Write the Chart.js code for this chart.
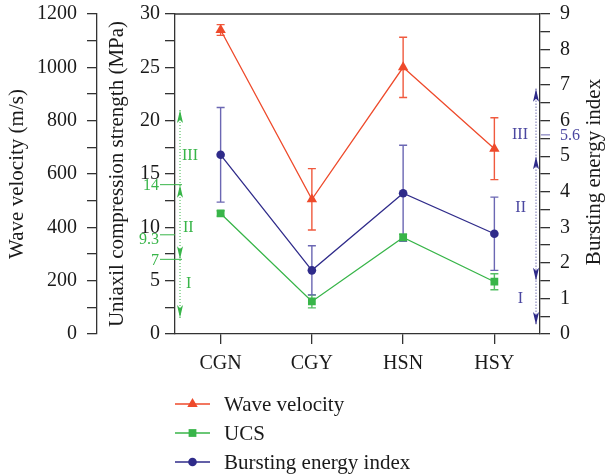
<!DOCTYPE html>
<html>
<head>
<meta charset="utf-8">
<script src="https://cdn.jsdelivr.net/npm/chart.js@4.4.0/dist/chart.umd.min.js"></script>
<style>
  body { margin: 0; background: #fff; }
  canvas { display: block; }
</style>
</head>
<body>
<canvas id="rockChart" width="606" height="475"></canvas>
<script>
const rockTypes = ['CGN', 'CGY', 'HSN', 'HSY'];

const waveVelocity = [1140, 505, 1000, 695];
const waveVelocityErr = [20, 115, 113, 116];
const ucs = [11.3, 3.05, 9.05, 4.9];
const ucsErr = [0.25, 0.6, 0.3, 0.75];
const burstIndex = [5.04, 1.79, 3.96, 2.82];
const burstIndexErr = [1.33, 0.69, 1.35, 1.03];

// rockburst class limits marked next to the UCS and bursting index axes
const ucsLimits = [14, 9.3, 7];
const ucsArrowEnds = [1.5, 21];
const burstLimits = [1.5, 5];
const burstMark = 5.6;
const burstArrowEnds = [0.25, 6.9];

const SERIF = "'Liberation Serif', 'DejaVu Serif', serif";
const RED = '#ee4a2b';
const GREEN = '#38b549';
const BLUE = '#2f2b8a';
const AXIS = '#333333';

function drawHead(ctx, x, tipY, dir, color) {
    // dir -1: points up, 1: points down
    const len = 13, half = 3;
    ctx.fillStyle = color;
    ctx.beginPath();
    ctx.moveTo(x, tipY);
    ctx.lineTo(x - half, tipY - dir * len);
    ctx.lineTo(x, tipY - dir * (len - 3));
    ctx.lineTo(x + half, tipY - dir * len);
    ctx.closePath();
    ctx.fill();
}

// keep the plot box fixed: no extra room for the end tick labels
function fixSize(width) {
    return s => {
        s.width = width;
        s.paddingTop = 0;
        s.paddingBottom = 0;
    };
}

const errorBars = {
    id: 'errorBars',
    beforeDatasetsDraw(chart) {
        const ctx = chart.ctx;
        chart.data.datasets.forEach((ds, i) => {
            const meta = chart.getDatasetMeta(i);
            const scale = chart.scales[ds.yAxisID];
            ctx.save();
            ctx.strokeStyle = ds.errColor;
            ctx.lineWidth = 1.4;
            meta.data.forEach((pt, j) => {
                const top = scale.getPixelForValue(ds.data[j] + ds.errors[j]);
                const bot = scale.getPixelForValue(ds.data[j] - ds.errors[j]);
                ctx.beginPath();
                ctx.moveTo(pt.x, top); ctx.lineTo(pt.x, bot);
                ctx.moveTo(pt.x - 4, top); ctx.lineTo(pt.x + 4, top);
                ctx.moveTo(pt.x - 4, bot); ctx.lineTo(pt.x + 4, bot);
                ctx.stroke();
            });
            ctx.restore();
        });
    }
};

const extras = {
    id: 'extras',
    afterDraw(chart) {
        const ctx = chart.ctx;
        const area = chart.chartArea;
        const yU = chart.scales.yUcs;
        const yB = chart.scales.yBei;
        ctx.save();

        // top frame line
        ctx.strokeStyle = AXIS;
        ctx.lineWidth = 1.3;
        ctx.beginPath();
        ctx.moveTo(area.left, area.top);
        ctx.lineTo(area.right, area.top);
        ctx.stroke();

        // UCS classes
        const gx = area.left + 5;
        ctx.strokeStyle = GREEN;
        ctx.lineWidth = 1;
        ctx.setLineDash([1, 2]);
        ctx.beginPath();
        ctx.moveTo(gx, yU.getPixelForValue(ucsArrowEnds[1]));
        ctx.lineTo(gx, yU.getPixelForValue(ucsArrowEnds[0]));
        ctx.stroke();
        ctx.setLineDash([]);
        drawHead(ctx, gx, yU.getPixelForValue(ucsArrowEnds[1]), -1, GREEN);
        drawHead(ctx, gx, yU.getPixelForValue(ucsLimits[0]), -1, GREEN);
        drawHead(ctx, gx, yU.getPixelForValue(ucsLimits[2]), 1, GREEN);
        drawHead(ctx, gx, yU.getPixelForValue(ucsArrowEnds[0]), 1, GREEN);

        ctx.font = '16px ' + SERIF;
        ctx.fillStyle = GREEN;
        ctx.textBaseline = 'middle';
        ucsLimits.forEach((v, k) => {
            const y = yU.getPixelForValue(v);
            const x1 = k === 1 ? area.left : gx + 2;
            ctx.beginPath();
            ctx.moveTo(area.left - 15, y);
            ctx.lineTo(x1, y);
            ctx.stroke();
            ctx.textAlign = 'right';
            ctx.fillText(String(v), area.left - 16, k === 1 ? y + 5 : y + 1);
        });
        ctx.textAlign = 'left';
        ctx.fillText('III', gx + 2, yU.getPixelForValue(16.7));
        ctx.fillText('II', gx + 3, yU.getPixelForValue(10));
        ctx.fillText('I', gx + 6, yU.getPixelForValue(4.7));

        // bursting energy index classes
        const bx = area.right - 4;
        ctx.strokeStyle = BLUE;
        ctx.setLineDash([1, 2]);
        ctx.beginPath();
        ctx.moveTo(bx, yB.getPixelForValue(burstArrowEnds[1]));
        ctx.lineTo(bx, yB.getPixelForValue(burstArrowEnds[0]));
        ctx.stroke();
        ctx.setLineDash([]);
        drawHead(ctx, bx, yB.getPixelForValue(burstArrowEnds[1]), -1, BLUE);
        drawHead(ctx, bx, yB.getPixelForValue(burstLimits[1]), -1, BLUE);
        drawHead(ctx, bx, yB.getPixelForValue(burstLimits[0]), 1, BLUE);
        drawHead(ctx, bx, yB.getPixelForValue(burstArrowEnds[0]), 1, BLUE);

        const my = yB.getPixelForValue(burstMark);
        ctx.strokeStyle = '#6b67b3';
        ctx.beginPath();
        ctx.moveTo(area.right + 1, my);
        ctx.lineTo(area.right + 10, my);
        ctx.stroke();
        ctx.fillStyle = '#4b47a0';
        ctx.textAlign = 'left';
        ctx.fillText(String(burstMark), area.right + 20, my + 1);
        ctx.textAlign = 'right';
        ctx.fillText('III', bx - 8, yB.getPixelForValue(5.6));
        ctx.fillText('II', bx - 10, yB.getPixelForValue(3.55));
        ctx.fillText('I', bx - 13, yB.getPixelForValue(1));

        // right axis title, read bottom to top
        ctx.fillStyle = '#1a1a1a';
        ctx.font = '21px ' + SERIF;
        ctx.textAlign = 'center';
        ctx.translate(594, (area.top + area.bottom) / 2 - 2);
        ctx.rotate(-Math.PI / 2);
        ctx.fillText('Bursting energy index', 0, 0);
        ctx.restore();

        // legend, one entry per row
        ctx.save();
        ctx.font = '21px ' + SERIF;
        ctx.textBaseline = 'middle';
        ctx.textAlign = 'left';
        chart.data.datasets.forEach((ds, i) => {
            const y = 404 + i * 29;
            ctx.strokeStyle = ds.borderColor;
            ctx.lineWidth = 1.3;
            ctx.beginPath();
            ctx.moveTo(area.left, y);
            ctx.lineTo(area.left + 35, y);
            ctx.stroke();
            ctx.fillStyle = ds.borderColor;
            Chart.helpers.drawPoint(ctx, {
                pointStyle: ds.pointStyle, radius: ds.pointRadius, rotation: 0, borderWidth: 0
            }, area.left + 17.5, y);
            ctx.fillStyle = '#1a1a1a';
            ctx.fillText(ds.label, area.left + 49, y + 1);
        });
        ctx.restore();
    }
};

const tickFont = { family: SERIF, size: 20 };
const titleFont = { family: SERIF, size: 21 };
const grid = { drawOnChartArea: false, tickLength: 10, color: AXIS, lineWidth: 1.3 };
const border = { color: AXIS, width: 1.3 };

new Chart(document.getElementById('rockChart'), {
    type: 'line',
    data: {
        labels: rockTypes,
        datasets: [{
            label: 'Wave velocity',
            data: waveVelocity,
            errors: waveVelocityErr,
            errColor: '#f05a3e',
            yAxisID: 'yWave',
            borderColor: RED,
            backgroundColor: RED,
            pointStyle: 'triangle',
            pointRadius: 6
        }, {
            label: 'UCS',
            data: ucs,
            errors: ucsErr,
            errColor: '#55bf64',
            yAxisID: 'yUcs',
            borderColor: GREEN,
            backgroundColor: GREEN,
            pointStyle: 'rect',
            pointRadius: 5.5
        }, {
            label: 'Bursting energy index',
            data: burstIndex,
            errors: burstIndexErr,
            errColor: '#6b67b3',
            yAxisID: 'yBei',
            borderColor: BLUE,
            backgroundColor: BLUE,
            pointStyle: 'circle',
            pointRadius: 4.3
        }]
    },
    options: {
        responsive: false,
        animation: false,
        devicePixelRatio: 1,
        elements: {
            line: { borderWidth: 1.3, tension: 0 },
            point: { borderWidth: 0, hoverRadius: 5 }
        },
        layout: { padding: { top: 14, bottom: 101, left: 0, right: 0 } },
        plugins: { legend: { display: false }, tooltip: { enabled: false } },
        scales: {
            x: {
                offset: true,
                grid: grid,
                border: border,
                ticks: { color: '#1a1a1a', font: tickFont, padding: 8 },
                afterFit: s => { s.height = 40; }
            },
            yWave: {
                position: 'left',
                weight: 2,
                min: 0, max: 1200,
                grid: grid,
                border: border,
                ticks: {
                    stepSize: 100, autoSkip: false, padding: 10, color: '#1a1a1a', font: tickFont,
                    callback: v => v % 200 === 0 ? v : ''
                },
                title: { display: true, text: 'Wave velocity (m/s)', color: '#1a1a1a', font: titleFont, padding: { top: 5 } },
                afterFit: fixSize(97)
            },
            yUcs: {
                position: 'left',
                weight: 1,
                min: 0, max: 30,
                grid: grid,
                border: border,
                ticks: {
                    stepSize: 2.5, autoSkip: false, padding: 5, color: '#1a1a1a', font: tickFont,
                    callback: v => v % 5 === 0 ? v : ''
                },
                title: { display: true, text: 'Uniaxil compression strength (MPa)', color: '#1a1a1a', font: titleFont, padding: { top: 8 } },
                afterFit: fixSize(78)
            },
            yBei: {
                position: 'right',
                min: 0, max: 9,
                grid: grid,
                border: border,
                ticks: {
                    stepSize: 0.5, autoSkip: false, padding: 10, color: '#1a1a1a', font: tickFont,
                    callback: v => Number.isInteger(v) ? v : ''
                },
                afterFit: fixSize(66)
            }
        }
    },
    plugins: [errorBars, extras]
});
</script>
</body>
</html>
